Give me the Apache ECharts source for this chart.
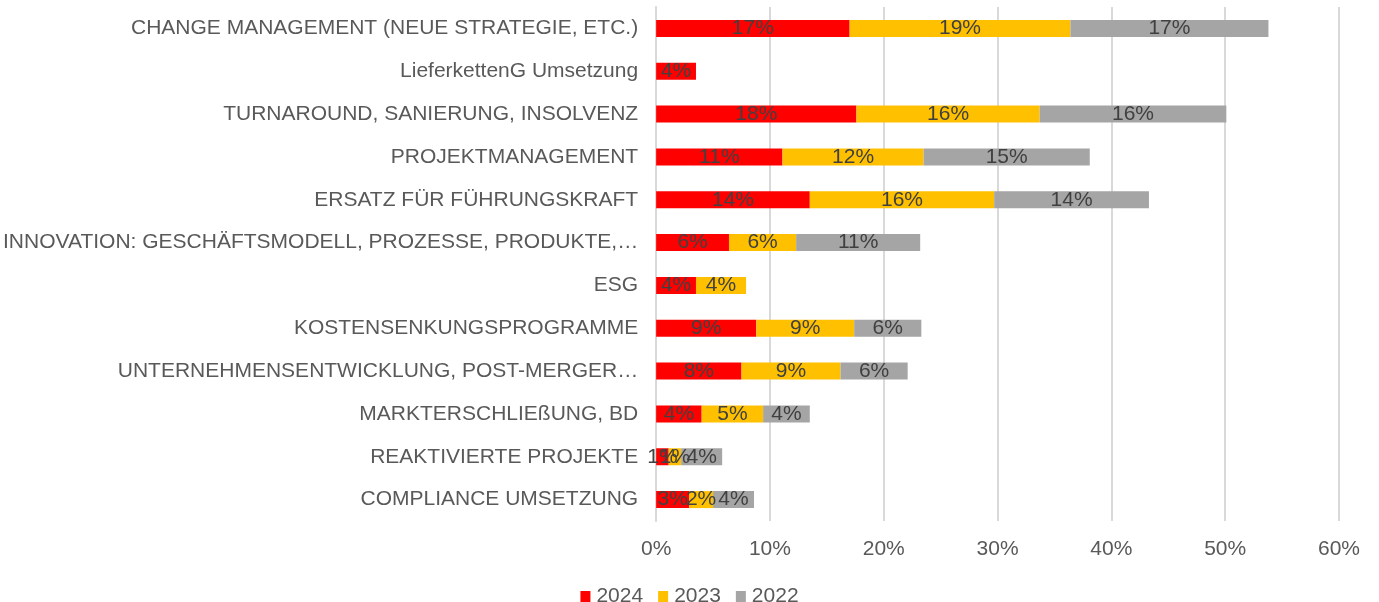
<!DOCTYPE html>
<html>
<head>
<meta charset="utf-8">
<script src="https://cdn.jsdelivr.net/npm/echarts@6/dist/echarts.min.js"></script>
<style>
  html, body { margin: 0; padding: 0; background: #fff; }
  #chart { width: 1379px; height: 602px; }
</style>
</head>
<body>
<div id="chart"></div>
<script>
var categories = [
    'CHANGE MANAGEMENT (NEUE STRATEGIE, ETC.)',
    'LieferkettenG Umsetzung',
    'TURNAROUND, SANIERUNG, INSOLVENZ',
    'PROJEKTMANAGEMENT',
    'ERSATZ FÜR FÜHRUNGSKRAFT',
    'INNOVATION: GESCHÄFTSMODELL, PROZESSE, PRODUKTE,…',
    'ESG',
    'KOSTENSENKUNGSPROGRAMME',
    'UNTERNEHMENSENTWICKLUNG, POST-MERGER…',
    'MARKTERSCHLIEßUNG, BD',
    'REAKTIVIERTE PROJEKTE',
    'COMPLIANCE UMSETZUNG'
];
var values2024 = [17.0, 3.5, 17.6, 11.1, 13.5, 6.4, 3.5, 8.8, 7.5, 4.0, 1.1, 2.9];
var values2023 = [19.4, null, 16.1, 12.4, 16.2, 5.9, 4.4, 8.6, 8.7, 5.4, 1.1, 2.1];
var values2022 = [17.4, null, 16.4, 14.6, 13.6, 10.9, null, 5.9, 5.9, 4.1, 3.6, 3.6];
var xTicks = [0, 10, 20, 30, 40, 50, 60];

var myChart = echarts.init(document.getElementById('chart'));
var font = 'Liberation Sans, Arial, sans-serif';

function makeSeries(name, data, color) {
    return {
        name: name,
        type: 'bar',
        stack: 'total',
        barWidth: 17,
        data: data,
        itemStyle: { color: color },
        label: {
            show: true,
            position: 'inside',
            color: '#404040',
            fontFamily: font,
            fontSize: 21,
            formatter: function (p) { return Math.round(p.value) + '%'; }
        }
    };
}

var option = {
    animation: false,
    grid: { left: 655, right: 40, top: 7, bottom: 81 },
    legend: {
        top: 581,
        left: 'center',
        itemWidth: 10,
        itemHeight: 11,
        itemGap: 15,
        icon: 'rect',
        textStyle: { color: '#595959', fontFamily: font, fontSize: 21, padding: [0, 0, 0, 1] },
        data: ['2024', '2023', '2022']
    },
    xAxis: {
        type: 'value',
        min: xTicks[0],
        max: xTicks[xTicks.length - 1],
        interval: 10,
        axisLine: { show: false },
        axisTick: { show: false },
        splitLine: { lineStyle: { color: '#d9d9d9', width: 2 } },
        axisLabel: {
            margin: 18,
            color: '#595959',
            fontFamily: font,
            fontSize: 21,
            formatter: '{value}%'
        }
    },
    yAxis: {
        type: 'category',
        inverse: true,
        data: categories,
        axisLine: { show: true, lineStyle: { color: '#d9d9d9', width: 2 } },
        axisTick: { show: false },
        axisLabel: {
            margin: 18,
            color: '#595959',
            fontFamily: font,
            fontSize: 21
        }
    },
    series: [
        makeSeries('2024', values2024, '#FF0000'),
        makeSeries('2023', values2023, '#FFC000'),
        makeSeries('2022', values2022, '#A5A5A5')
    ]
};
myChart.setOption(option);
</script>
</body>
</html>
